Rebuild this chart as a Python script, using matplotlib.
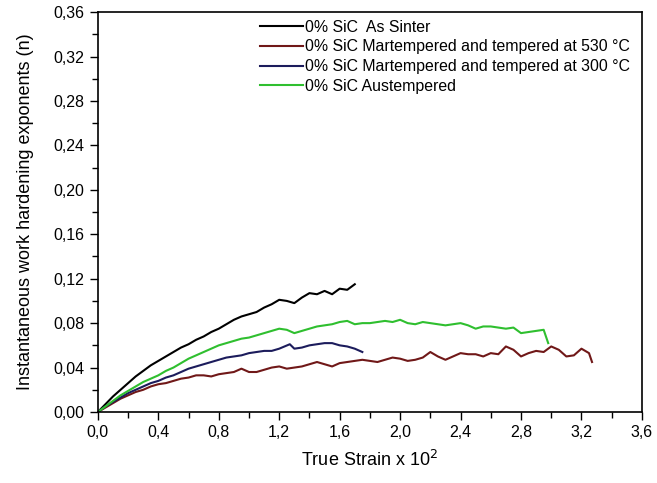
import matplotlib.pyplot as plt
from matplotlib.ticker import MultipleLocator, FuncFormatter

plt.rcParams['font.family'] = ['Liberation Sans', 'DejaVu Sans']

# ---- data: true strain (x 10^2) vs instantaneous n ----
strain_sinter = [0.0, 0.05, 0.1, 0.15, 0.2, 0.25, 0.3, 0.35, 0.4, 0.45, 0.5, 0.55, 0.6, 0.65, 0.7,
                 0.75, 0.8, 0.85, 0.9, 0.95, 1.0, 1.05, 1.1, 1.15, 1.2, 1.25, 1.3, 1.35, 1.4,
                 1.45, 1.5, 1.55, 1.6, 1.65, 1.7]
n_sinter = [0.0, 0.007, 0.014, 0.020, 0.026, 0.032, 0.037, 0.042, 0.046, 0.050, 0.054, 0.058,
            0.061, 0.065, 0.068, 0.072, 0.075, 0.079, 0.083, 0.086, 0.088, 0.090, 0.094, 0.097,
            0.101, 0.100, 0.098, 0.103, 0.107, 0.106, 0.109, 0.106, 0.111, 0.110, 0.115]

strain_530 = [0.0, 0.05, 0.1, 0.15, 0.2, 0.25, 0.3, 0.35, 0.4, 0.45, 0.5, 0.55, 0.6, 0.65, 0.7,
              0.75, 0.8, 0.85, 0.9, 0.95, 1.0, 1.05, 1.1, 1.15, 1.2, 1.25, 1.3, 1.35, 1.4, 1.45,
              1.5, 1.55, 1.6, 1.65, 1.7, 1.75, 1.8, 1.85, 1.9, 1.95, 2.0, 2.05, 2.1, 2.15, 2.2,
              2.25, 2.3, 2.35, 2.4, 2.45, 2.5, 2.55, 2.6, 2.65, 2.7, 2.75, 2.8, 2.85, 2.9, 2.95,
              3.0, 3.05, 3.1, 3.15, 3.2, 3.25, 3.27]
n_530 = [0.0, 0.004, 0.008, 0.012, 0.015, 0.018, 0.020, 0.023, 0.025, 0.026, 0.028, 0.030,
         0.031, 0.033, 0.033, 0.032, 0.034, 0.035, 0.036, 0.039, 0.036, 0.036, 0.038, 0.040,
         0.041, 0.039, 0.040, 0.041, 0.043, 0.045, 0.043, 0.041, 0.044, 0.045, 0.046, 0.047,
         0.046, 0.045, 0.047, 0.049, 0.048, 0.046, 0.047, 0.049, 0.054, 0.050, 0.047, 0.050,
         0.053, 0.052, 0.052, 0.050, 0.053, 0.052, 0.059, 0.056, 0.050, 0.053, 0.055, 0.054,
         0.059, 0.056, 0.050, 0.051, 0.057, 0.053, 0.045]

strain_300 = [0.0, 0.05, 0.1, 0.15, 0.2, 0.25, 0.3, 0.35, 0.4, 0.45, 0.5, 0.55, 0.6, 0.65, 0.7,
              0.75, 0.8, 0.85, 0.9, 0.95, 1.0, 1.05, 1.1, 1.15, 1.2, 1.27, 1.3, 1.35, 1.4, 1.45,
              1.5, 1.55, 1.6, 1.65, 1.7, 1.75]
n_300 = [0.0, 0.005, 0.009, 0.013, 0.017, 0.020, 0.023, 0.026, 0.028, 0.031, 0.033, 0.036,
         0.039, 0.041, 0.043, 0.045, 0.047, 0.049, 0.050, 0.051, 0.053, 0.054, 0.055, 0.055,
         0.057, 0.061, 0.057, 0.058, 0.060, 0.061, 0.062, 0.062, 0.060, 0.059, 0.057, 0.054]

strain_aus = [0.0, 0.05, 0.1, 0.15, 0.2, 0.25, 0.3, 0.35, 0.4, 0.45, 0.5, 0.55, 0.6, 0.65, 0.7,
              0.75, 0.8, 0.85, 0.9, 0.95, 1.0, 1.05, 1.1, 1.15, 1.2, 1.25, 1.3, 1.35, 1.4, 1.45,
              1.5, 1.55, 1.6, 1.65, 1.7, 1.75, 1.8, 1.85, 1.9, 1.95, 2.0, 2.05, 2.1, 2.15, 2.2,
              2.25, 2.3, 2.35, 2.4, 2.45, 2.5, 2.55, 2.6, 2.65, 2.7, 2.75, 2.8, 2.85, 2.9, 2.95,
              2.98]
n_aus = [0.0, 0.005, 0.010, 0.015, 0.019, 0.023, 0.027, 0.030, 0.033, 0.037, 0.040, 0.044,
         0.048, 0.051, 0.054, 0.057, 0.060, 0.062, 0.064, 0.066, 0.067, 0.069, 0.071, 0.073,
         0.075, 0.074, 0.071, 0.073, 0.075, 0.077, 0.078, 0.079, 0.081, 0.082, 0.079, 0.080,
         0.080, 0.081, 0.082, 0.081, 0.083, 0.080, 0.079, 0.081, 0.080, 0.079, 0.078, 0.079,
         0.080, 0.078, 0.075, 0.077, 0.077, 0.076, 0.075, 0.076, 0.071, 0.072, 0.073, 0.074,
         0.062]

labels = ["0% SiC  As Sinter",
          "0% SiC Martempered and tempered at 530 °C",
          "0% SiC Martempered and tempered at 300 °C",
          "0% SiC Austempered"]
colors = ["#000000", "#701818", "#1c1c5c", "#2fbf2f"]

# ---- figure ----
fig = plt.figure(figsize=(6.57, 4.83), dpi=100)
ax = fig.add_axes([0.149, 0.147, 0.828, 0.828])

series = [(strain_sinter, n_sinter), (strain_530, n_530), (strain_300, n_300), (strain_aus, n_aus)]
for (x, y), lab, col in zip(series, labels, colors):
    ax.plot(x, y, color=col, lw=1.5, label=lab)

ax.set_xlim(0, 3.6)
ax.set_ylim(0, 0.36)
ax.xaxis.set_major_locator(MultipleLocator(0.4))
ax.xaxis.set_minor_locator(MultipleLocator(0.2))
ax.yaxis.set_major_locator(MultipleLocator(0.04))
ax.yaxis.set_minor_locator(MultipleLocator(0.02))
ax.xaxis.set_major_formatter(FuncFormatter(lambda v, p: f"{v:.1f}".replace(".", ",")))
ax.yaxis.set_major_formatter(FuncFormatter(lambda v, p: f"{v:.2f}".replace(".", ",")))
ax.tick_params(which='both', direction='out', top=False, right=False, width=1)
ax.tick_params(which='major', length=6, labelsize=11.5)
ax.tick_params(which='minor', length=4)
for s in ax.spines.values():
    s.set_linewidth(1.2)

ax.set_xlabel("True Strain x 10$^2$", fontsize=13, labelpad=7)
ax.set_ylabel("Instantaneous work hardening exponents (n)", fontsize=13, labelpad=14)

ax.legend(loc='upper left', bbox_to_anchor=(0.284, 1.0), frameon=False, fontsize=11.4,
          handlelength=2.7, handletextpad=0.15, labelspacing=0.3, borderaxespad=0.08)

fig.savefig("out.png", dpi=100)
